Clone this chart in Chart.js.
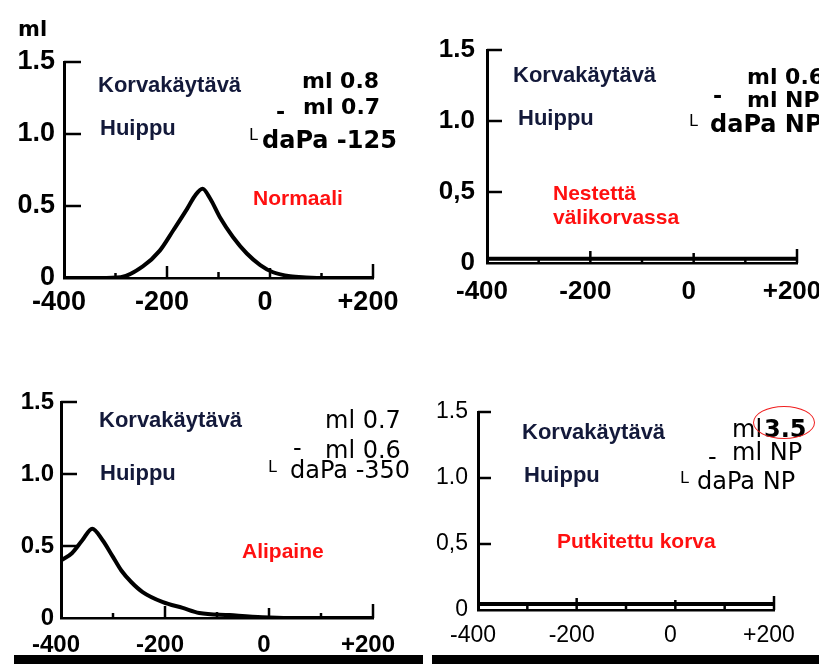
<!DOCTYPE html>
<html>
<head>
<meta charset="utf-8">
<script src="https://cdn.jsdelivr.net/npm/chart.js@4"></script>
<style>
  body { margin: 0; background: #fff; }
  #page { position: relative; width: 819px; height: 664px; overflow: hidden; background: #fff; }
  canvas { position: absolute; left: 0; top: 0; }
  .t { position: absolute; white-space: pre; line-height: 1; z-index: 2; }
  .nav { font: bold 22px "Liberation Sans", Arial, sans-serif; color: #13193a; }
  .red { font: bold 21px "Liberation Sans", Arial, sans-serif; color: #ff1010; }
  .rb { font: bold 22px "DejaVu Sans", sans-serif; color: #000; }
  .rb24 { font: bold 24px "DejaVu Sans", sans-serif; color: #000; }
  .rn { font: 24px "DejaVu Sans", sans-serif; color: #000; }
  .corner { font: 16px "DejaVu Sans", sans-serif; color: #000; }
  .bar { position: absolute; background: #000; height: 9px; top: 655px; }
  .ring { position: absolute; border: 1.5px solid #f02020; border-radius: 50%; z-index: 3; }
</style>
</head>
<body>
<div id="page">
  <!-- Normaali -->
  <div class="t rb" style="left:18px;top:17px;font-size:21px">ml</div>
  <div class="t nav" style="left:98px;top:72px">Korvakäytävä</div>
  <div class="t nav" style="left:100px;top:115px">Huippu</div>
  <div class="t rb" style="left:302px;top:68px">ml 0.8</div>
  <div class="t rb" style="left:276px;top:99px">-</div>
  <div class="t rb" style="left:303px;top:94px">ml 0.7</div>
  <div class="t corner" style="left:249px;top:125px">L</div>
  <div class="t rb24" style="left:262px;top:126px">daPa -125</div>
  <div class="t red" style="left:253px;top:186px">Normaali</div>

  <!-- Nestettä välikorvassa -->
  <div class="t nav" style="left:513px;top:62px">Korvakäytävä</div>
  <div class="t nav" style="left:518px;top:105px">Huippu</div>
  <div class="t rb" style="left:747px;top:64px">ml 0.6</div>
  <div class="t rb" style="left:713px;top:83px">-</div>
  <div class="t rb" style="left:747px;top:87px">ml NP</div>
  <div class="t corner" style="left:689px;top:111px">L</div>
  <div class="t rb24" style="left:710px;top:110px">daPa NP</div>
  <div class="t red" style="left:553px;top:181px">Nestettä</div>
  <div class="t red" style="left:553px;top:205px">välikorvassa</div>

  <!-- Alipaine -->
  <div class="t nav" style="left:99px;top:407px">Korvakäytävä</div>
  <div class="t nav" style="left:100px;top:460px">Huippu</div>
  <div class="t rn" style="left:325px;top:406px">ml 0.7</div>
  <div class="t rn" style="left:293px;top:434px">-</div>
  <div class="t rn" style="left:325px;top:436px">ml 0.6</div>
  <div class="t corner" style="left:268px;top:457px">L</div>
  <div class="t rn" style="left:290px;top:456px">daPa -350</div>
  <div class="t red" style="left:242px;top:539px">Alipaine</div>

  <!-- Putkitettu korva -->
  <div class="t nav" style="left:522px;top:419px">Korvakäytävä</div>
  <div class="t nav" style="left:524px;top:462px">Huippu</div>
  <div class="t rn" style="left:732px;top:415px">ml</div>
  <div class="t rn" style="left:764px;top:415px;font-weight:bold">3.5</div>
  <div class="ring" style="left:753px;top:406px;width:60px;height:31px"></div>
  <div class="t rn" style="left:708px;top:443px">-</div>
  <div class="t rn" style="left:732px;top:438px">ml NP</div>
  <div class="t corner" style="left:680px;top:468px">L</div>
  <div class="t rn" style="left:697px;top:467px">daPa NP</div>
  <div class="t red" style="left:557px;top:529px">Putkitettu korva</div>

  <div class="bar" style="left:14px;width:409px"></div>
  <div class="bar" style="left:432px;width:387px"></div>
</div>
<script>
// tick values and labels
const pressureTicks = [-400, -200, 0, 200];
const pressureTickLabels = ['-400', '-200', '0', '+200'];
const minorPressureTicks = [-300, -200, -100, 0, 100, 200];
const volumeTicks = [0, 0.5, 1.0, 1.5];
const volumeTickLabels = ['0', '0.5', '1.0', '1.5'];
const volumeTickLabelsComma = ['0', '0,5', '1.0', '1.5'];

// Normaali
const normalPressure = [-400, -330, -290, -247, -214, -188, -161, -146, -131, -116, -97, -72, -45, -19, 6, 39, 70, 110, 200];
const normalVolume = [0, 0, 0.005, 0.08, 0.19, 0.33, 0.48, 0.57, 0.62, 0.55, 0.42, 0.285, 0.17, 0.09, 0.04, 0.012, 0.004, 0, 0];

// Nestettä välikorvassa
const fluidPressure = [-400, 200];
const fluidVolume = [0.03, 0.03];

// Alipaine
const negativePressure = [-400, -379, -359, -340, -320, -301, -284, -265, -243, -204, -166, -134, -76, -13, 40, 200];
const negativeVolume = [0.40, 0.45, 0.54, 0.62, 0.54, 0.43, 0.33, 0.25, 0.18, 0.11, 0.07, 0.035, 0.02, 0.005, 0, 0];

// Putkitettu korva
const tubePressure = [-400, 200];
const tubeVolume = [0.045, 0.045];

const AXW = 60, AXH = 40;
const minorTickLen = [5, 12, 6, 10, 5, 14];

const panels = [
  { xs: normalPressure, ys: normalVolume, yLabels: volumeTickLabels,
    L: 64, R: 373, T: 62, B: 278, size: 27, weight: 'bold', xPad: 8, yPad: 9, yTick: 17 },
  { xs: fluidPressure, ys: fluidVolume, yLabels: volumeTickLabelsComma,
    L: 487, R: 797, T: 50, B: 263, size: 26, weight: 'bold', xPad: 13, yPad: 12, yTick: 15 },
  { xs: negativePressure, ys: negativeVolume, yLabels: volumeTickLabels,
    L: 61, R: 373, T: 402, B: 618, size: 24, weight: 'bold', xPad: 13, yPad: 7, yTick: 16 },
  { xs: tubePressure, ys: tubeVolume, yLabels: volumeTickLabelsComma,
    L: 478, R: 774, T: 412, B: 610, size: 23, weight: 'normal', xPad: 12, yPad: 10, yTick: 13 }
];

const tickMarks = {
  id: 'tickMarks',
  afterDraw(chart, args, opts) {
    const { ctx, scales: { x, y } } = chart;
    ctx.save();
    ctx.strokeStyle = '#000';
    ctx.lineWidth = 2.5;
    volumeTicks.slice(1).forEach(v => {
      const py = y.getPixelForValue(v);
      ctx.beginPath();
      ctx.moveTo(x.left, py);
      ctx.lineTo(x.left + opts.len, py);
      ctx.stroke();
    });
    minorPressureTicks.forEach((v, i) => {
      const px = x.getPixelForValue(v);
      ctx.beginPath();
      ctx.moveTo(px, y.bottom);
      ctx.lineTo(px, y.bottom - minorTickLen[i]);
      ctx.stroke();
    });
    ctx.restore();
  }
};

const page = document.getElementById('page');

panels.forEach(p => {
  const canvas = document.createElement('canvas');
  canvas.width = 819;
  canvas.height = 664;
  page.appendChild(canvas);
  const font = { family: '"Liberation Sans", Arial, sans-serif', size: p.size, weight: p.weight };

  new Chart(canvas, {
    type: 'line',
    data: {
      datasets: [{
        data: p.xs.map((x, i) => ({ x: x, y: p.ys[i] })),
        borderColor: '#000',
        borderWidth: 4,
        pointRadius: 0,
        cubicInterpolationMode: 'monotone',
        fill: false
      }]
    },
    options: {
      responsive: false,
      animation: false,
      layout: { padding: { left: p.L - AXW, top: p.T, right: 819 - p.R, bottom: 664 - p.B - AXH } },
      plugins: { legend: { display: false }, tooltip: { enabled: false }, tickMarks: { len: p.yTick } },
      scales: {
        x: {
          type: 'linear', min: -400, max: 200,
          afterBuildTicks: s => { s.ticks = pressureTicks.map(v => ({ value: v })); },
          afterFit: s => { s.height = AXH; s.paddingLeft = 0; s.paddingRight = 0; },
          grid: { display: false, drawTicks: false },
          border: { display: true, width: 2.5, color: '#000' },
          ticks: { padding: p.xPad, labelOffset: -5, color: '#000', font: font, autoSkip: false, maxRotation: 0,
                   callback: (v, i) => pressureTickLabels[i] }
        },
        y: {
          min: 0, max: 1.5,
          afterBuildTicks: s => { s.ticks = volumeTicks.map(v => ({ value: v })); },
          afterFit: s => { s.width = AXW; s.paddingTop = 0; s.paddingBottom = 0; },
          grid: { display: false, drawTicks: false },
          border: { display: true, width: 3, color: '#000' },
          ticks: { padding: p.yPad, color: '#000', font: font, autoSkip: false,
                   callback: (v, i) => p.yLabels[i] }
        }
      }
    },
    plugins: [tickMarks]
  });
});
</script>
</body>
</html>
